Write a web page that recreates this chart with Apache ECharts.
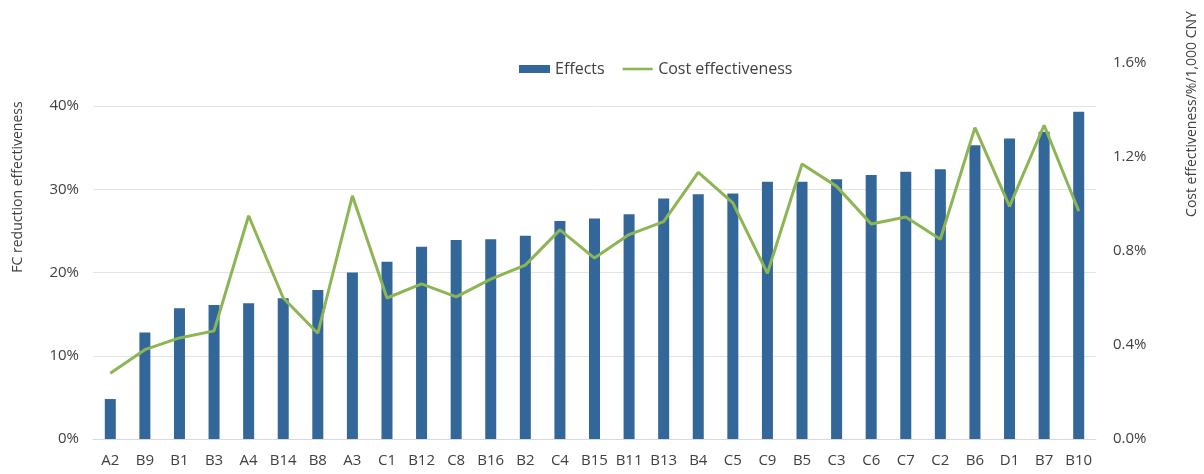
<!DOCTYPE html>
<html>
<head>
  <meta charset="utf-8">
  <title>Effects vs cost effectiveness</title>
  <script src="https://cdn.jsdelivr.net/npm/echarts@6/dist/echarts.min.js"></script>
  <style>
    html, body { margin: 0; padding: 0; background: #fff; }
    #chart { width: 1204px; height: 474px; }
  </style>
</head>
<body>
  <div id="chart"></div>
  <script>
    const measures = ['A2', 'B9', 'B1', 'B3', 'A4', 'B14', 'B8', 'A3', 'C1', 'B12', 'C8', 'B16', 'B2', 'C4', 'B15',
                      'B11', 'B13', 'B4', 'C5', 'C9', 'B5', 'C3', 'C6', 'C7', 'C2', 'B6', 'D1', 'B7', 'B10'];
    // FC reduction effectiveness, %
    const effects = [4.8, 12.8, 15.7, 16.1, 16.3, 16.9, 17.9, 20.0, 21.3, 23.1, 23.9, 24.0, 24.4, 26.2, 26.5,
                     27.0, 28.9, 29.4, 29.5, 30.9, 30.9, 31.2, 31.7, 32.1, 32.4, 35.3, 36.1, 36.9, 39.3];
    // cost effectiveness, % per 1,000 CNY
    const costEff = [0.28, 0.38, 0.43, 0.46, 0.95, 0.60, 0.45, 1.035, 0.60, 0.66, 0.605, 0.68, 0.74, 0.89, 0.77,
                     0.87, 0.925, 1.135, 1.005, 0.705, 1.17, 1.075, 0.915, 0.945, 0.85, 1.325, 0.99, 1.335, 0.97];
    const leftTicks = [10, 20, 30, 40];

    const FONT = 'Open Sans';
    const TXT = '#404040';
    const GRID = '#e3e3e3';

    // left axis is stretched so 40% lines up under the right axis' 1.6% top
    const leftMax = 40 * 376 / 333;

    // thin band inside an 30x8 box, so the legend shows a plain line with no dot
    const lineIcon = 'path://M0,0L0,0M0,2.7L30,2.7L30,5.3L0,5.3ZM30,8L30,8';

    let myChart = echarts.init(document.getElementById('chart'));
    let option = {
      animation: false,
      textStyle: { fontFamily: FONT },
      legend: {
        top: 56,
        left: 514,
        itemWidth: 31,
        itemHeight: 8,
        itemGap: 18,
        textStyle: { fontFamily: FONT, fontSize: 16, color: TXT },
        data: [
          { name: 'Effects', icon: 'rect' },
          { name: 'Cost effectiveness', icon: lineIcon }
        ]
      },
      grid: { left: 93, right: 108, top: 63, bottom: 35 },
      xAxis: {
        type: 'category',
        data: measures,
        axisLine: { lineStyle: { color: '#d9d9d9' } },
        axisTick: { show: false },
        axisLabel: { color: TXT, fontSize: 15, fontFamily: FONT, margin: 14, interval: 0 }
      },
      yAxis: [
        {
          type: 'value',
          min: 0,
          max: leftMax,
          interval: 10,
          splitLine: { show: false },
          axisLabel: {
            color: TXT, fontSize: 15, fontFamily: FONT, margin: 14,
            formatter: v => (v % 10 === 0 ? v + '%' : '')
          }
        },
        {
          type: 'value',
          min: 0,
          max: 1.6,
          interval: 0.4,
          splitLine: { show: false },
          axisLabel: {
            color: TXT, fontSize: 15, fontFamily: FONT, margin: 17,
            formatter: v => v.toFixed(1) + '%'
          }
        }
      ],
      graphic: [
        {
          type: 'text', x: 18, y: 187, rotation: Math.PI / 2,
          style: { text: 'FC reduction effectiveness', fontFamily: FONT, fontSize: 14, fill: TXT,
                   align: 'center', verticalAlign: 'middle' }
        },
        {
          type: 'text', x: 1192, y: 114, rotation: Math.PI / 2,
          style: { text: 'Cost effectiveness/%/1,000 CNY', fontFamily: FONT, fontSize: 14, fill: TXT,
                   align: 'center', verticalAlign: 'middle' }
        }
      ],
      series: [
        {
          name: 'gridlines',
          type: 'line',
          data: [],
          z: 1,
          markLine: {
            silent: true,
            z: 1,
            symbol: 'none',
            label: { show: false },
            lineStyle: { color: GRID, type: 'solid', width: 1 },
            data: leftTicks.map(t => ({ yAxis: t }))
          }
        },
        {
          name: 'Effects',
          type: 'bar',
          data: effects,
          barWidth: 11,
          itemStyle: { color: '#336699' },
          z: 2
        },
        {
          name: 'Cost effectiveness',
          type: 'line',
          yAxisIndex: 1,
          data: costEff,
          symbol: 'none',
          lineStyle: { color: '#8cb654', width: 3 },
          itemStyle: { color: '#8cb654' },
          z: 3
        }
      ]
    };
    myChart.setOption(option);
  </script>
</body>
</html>
